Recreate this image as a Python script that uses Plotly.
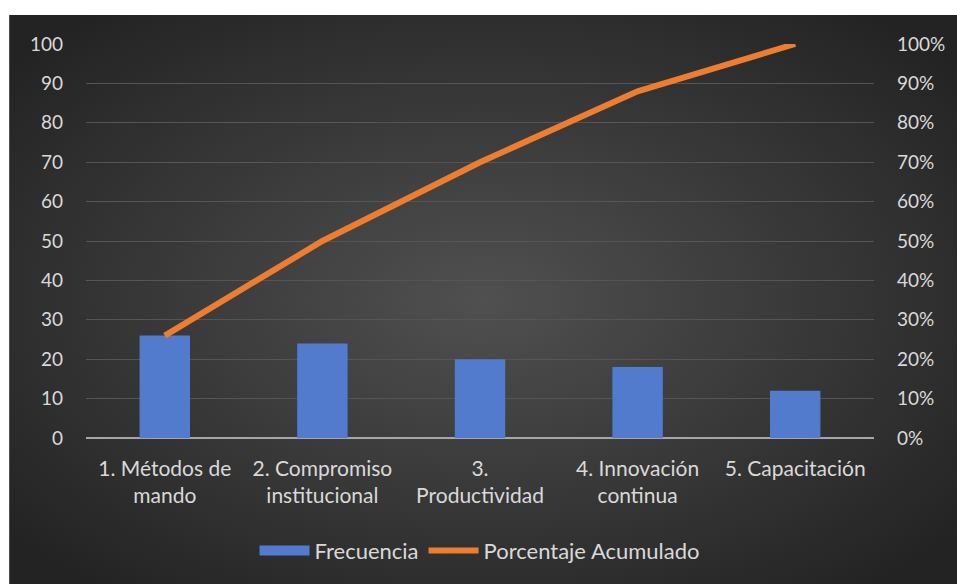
import base64
import plotly.graph_objects as go

categories = ["1. Métodos de<br>mando", "2. Compromiso<br>institucional", "3.<br>Productividad",
              "4. Innovación<br>continua", "5. Capacitación"]
frecuencia = [26, 24, 20, 18, 12]
porcentaje_acumulado = [0.26, 0.50, 0.70, 0.88, 1.00]
left_ticks = list(range(0, 101, 10))
right_ticks = [i / 10 for i in range(0, 11)]

W, H = 957, 584
L, R, T, B = 86, 81, 44, 145
pw, ph = W - L - R, H - T - B
dx0, dy0 = 9, 15  # dark background top-left corner (figure px)

svg = ('<svg xmlns="http://www.w3.org/2000/svg" width="960" height="580" viewBox="0 0 960 580" '
       'preserveAspectRatio="none"><defs><radialGradient id="g" cx="50%" cy="50%" r="65%">'
       '<stop offset="0%" stop-color="#505050"/><stop offset="100%" stop-color="#232323"/>'
       '</radialGradient></defs><rect width="960" height="580" fill="url(#g)"/></svg>')
src = "data:image/svg+xml;base64," + base64.b64encode(svg.encode()).decode()

font = "Lato, 'Open Sans', sans-serif"
tick_col = "#d9d9d9"

fig = go.Figure()
fig.add_trace(go.Bar(x=categories, y=frecuencia, name="Frecuencia", showlegend=False,
                     marker=dict(color="#527bcd", line=dict(width=0))))
# legend swatch for bars (wide rectangle look)
fig.add_trace(go.Scatter(x=[None], y=[None], name="Frecuencia", mode="lines",
                         line=dict(color="#527bcd", width=14)))
fig.add_trace(go.Scatter(x=categories, y=porcentaje_acumulado, name="Porcentaje Acumulado",
                         mode="lines", yaxis="y2",
                         line=dict(color="#ED7D31", width=6)))

fig.update_layout(
    width=W, height=H,
    margin=dict(l=L, r=R, t=T, b=B),
    paper_bgcolor="#262626",
    plot_bgcolor="rgba(0,0,0,0)",
    bargap=0.68,
    font=dict(family=font, size=19, color=tick_col),
    images=[dict(source=src, xref="paper", yref="paper",
                 x=(dx0 - L) / pw, y=(H - B - dy0) / ph,
                 sizex=(W + 2 - dx0) / pw, sizey=(H + 2 - dy0) / ph,
                 sizing="stretch", layer="below", xanchor="left", yanchor="top")],
    shapes=[
        dict(type="rect", xref="paper", yref="paper", x0=-L / pw - 0.05, x1=(W - L) / pw + 0.05,
             y0=(H - B - dy0) / ph, y1=(H - B) / ph + 0.05, fillcolor="white",
             line=dict(width=0), layer="below"),
        dict(type="rect", xref="paper", yref="paper", x0=-L / pw - 0.05, x1=(dx0 - L) / pw,
             y0=-B / ph - 0.05, y1=(H - B) / ph + 0.05, fillcolor="white",
             line=dict(width=0), layer="below"),
    ],
    xaxis=dict(showgrid=False, tickfont=dict(size=21, color=tick_col), ticks="",
               showline=False, ticklabelstandoff=16),
    yaxis=dict(range=[0, 100], tickvals=left_ticks, gridcolor="#555555", gridwidth=1,
               zeroline=True, zerolinecolor="#a6a6a6", zerolinewidth=2,
               tickfont=dict(size=19, color=tick_col), ticklabelstandoff=22),
    yaxis2=dict(range=[0, 1], tickvals=right_ticks, tickformat=".0%", overlaying="y",
                side="right", showgrid=False, zeroline=False,
                tickfont=dict(size=19, color=tick_col), ticklabelstandoff=22),
    legend=dict(orientation="h", x=0.5, xanchor="center", y=-0.286, yanchor="middle",
                font=dict(size=22, color=tick_col), bgcolor="rgba(0,0,0,0)",
                itemwidth=50, tracegroupgap=0),
    showlegend=True,
)

fig.write_html("out.html", config={"displayModeBar": False},
               post_script="document.body.style.margin='0';document.body.style.overflow='hidden';")
